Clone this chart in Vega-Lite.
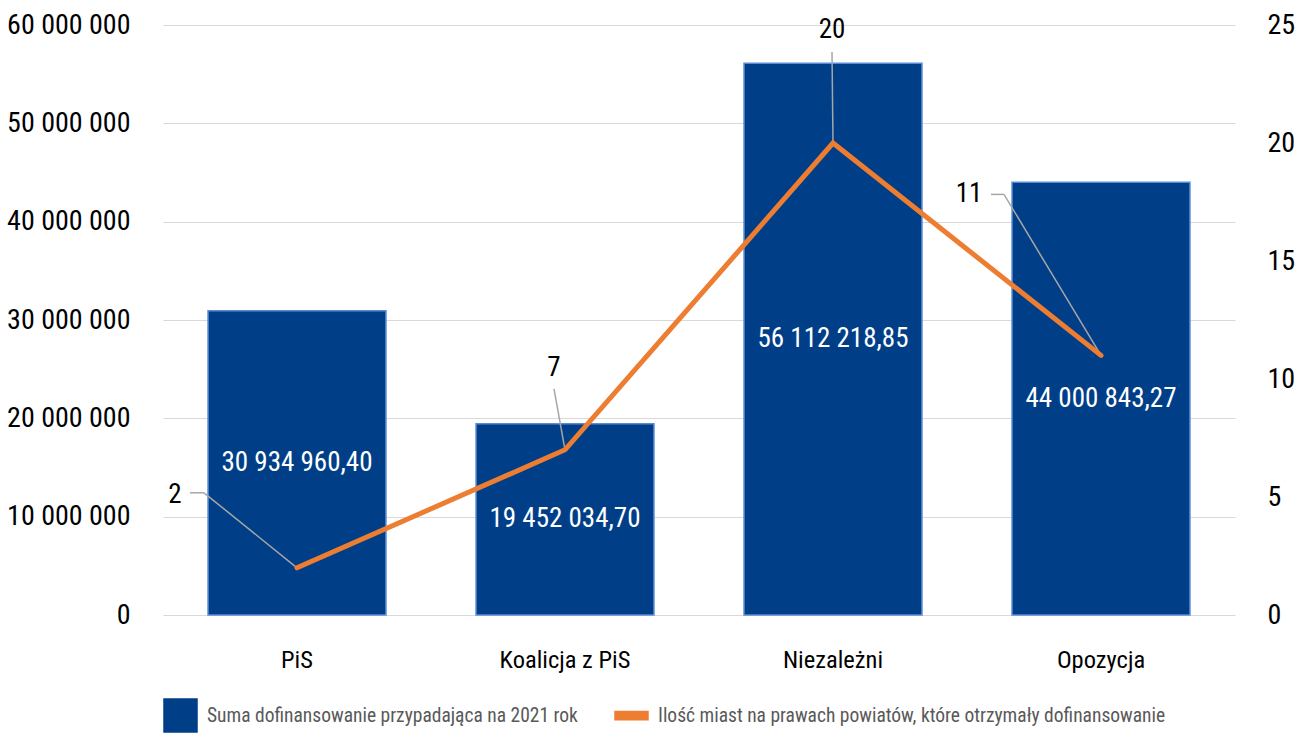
{
  "$schema": "https://vega.github.io/schema/vega-lite/v6.json",
  "width": 1072,
  "height": 590,
  "autosize": {"type": "none"},
  "padding": {"left": 163, "top": 25, "right": 71, "bottom": 118},
  "config": {
    "locale": {"number": {"decimal": ",", "thousands": " ", "grouping": [3], "currency": ["", ""]}},
    "font": "Roboto Condensed, Roboto",
    "view": {"stroke": null},
    "axis": {"labelColor": "#000000", "domain": false, "ticks": false, "title": null, "labelFont": "Roboto Condensed, Roboto"},
    "legend": {"labelFont": "Roboto Condensed, Roboto"}
  },
  "data": {
    "values": [
      {"party": "PiS", "suma": 30934960.40, "miasta": 2},
      {"party": "Koalicja z PiS", "suma": 19452034.70, "miasta": 7},
      {"party": "Niezależni", "suma": 56112218.85, "miasta": 20},
      {"party": "Opozycja", "suma": 44000843.27, "miasta": 11}
    ]
  },
  "encoding": {
    "x": {
      "field": "party", "type": "nominal", "sort": null,
      "scale": {"paddingInner": 0.336, "paddingOuter": 0.168},
      "axis": {"labelAngle": 0, "labelFontSize": 24.5, "labelPadding": 33, "grid": false}
    }
  },
  "layer": [
    {
      "encoding": {
        "y": {
          "field": "suma", "type": "quantitative",
          "scale": {"domain": [0, 60000000], "nice": false},
          "axis": {"orient": "left", "values": [0, 10000000, 20000000, 30000000, 40000000, 50000000, 60000000], "format": ",d", "labelFontSize": 28, "labelPadding": 33, "grid": true, "gridColor": "#D9D9D9", "gridWidth": 1.2}
        }
      },
      "layer": [
        {
          "mark": {"type": "bar", "stroke": "#5B8BD6", "strokeWidth": 1.5},
          "encoding": {
            "color": {
              "datum": "Suma dofinansowanie przypadająca na 2021 rok",
              "type": "nominal",
              "scale": {"domain": ["Suma dofinansowanie przypadająca na 2021 rok", "Ilość miast na prawach powiatów, które otrzymały dofinansowanie"], "range": ["#003F88", "#ED7D31"]},
              "legend": {
                "orient": "bottom", "direction": "horizontal", "title": null,
                "labelFontSize": 19.5, "labelColor": "#595959", "labelLimit": 700,
                "symbolSize": 1089, "labelOffset": 9, "columnPadding": 34, "offset": 26,
                "symbolType": {"expr": "datum.value === 'Suma dofinansowanie przypadająca na 2021 rok' ? 'square' : 'M-1,-1M1,1M-1,-0.25H1V0.25H-1Z'"},
                "encode": {
                  "symbols": {
                    "strokeWidth": {"value": 0},
                    "opacity": {"value": 1}
                  }
                }
              }
            }
          }
        },
        {
          "transform": [{"calculate": "datum.suma / 2", "as": "mid"}],
          "mark": {"type": "text", "color": "#FFFFFF", "fontSize": 27, "baseline": "middle"},
          "encoding": {
            "y": {"field": "mid", "type": "quantitative"},
            "text": {"field": "suma", "type": "quantitative", "format": ",.2f"}
          }
        }
      ]
    },
    {
      "encoding": {
        "y": {
          "field": "miasta", "type": "quantitative",
          "scale": {"domain": [0, 25], "nice": false},
          "axis": {"orient": "right", "values": [0, 5, 10, 15, 20, 25], "labelFontSize": 28, "labelPadding": 32, "grid": false}
        }
      },
      "layer": [
        {
          "transform": [{"filter": "datum.party === 'PiS'"}],
          "mark": {"type": "rule", "color": "#A6A6A6", "strokeWidth": 1.5, "xOffset": -107, "yOffset": -75, "x2Offset": -93, "y2Offset": -75},
          "encoding": {"x2": {"field": "party"}, "y2": {"field": "miasta"}}
        },
        {
          "transform": [{"filter": "datum.party === 'PiS'"}],
          "mark": {"type": "rule", "color": "#A6A6A6", "strokeWidth": 1.5, "xOffset": -93, "yOffset": -75, "x2Offset": 0, "y2Offset": 0},
          "encoding": {"x2": {"field": "party"}, "y2": {"field": "miasta"}}
        },
        {
          "transform": [{"filter": "datum.party === 'Koalicja z PiS'"}],
          "mark": {"type": "rule", "color": "#A6A6A6", "strokeWidth": 1.5, "xOffset": -11, "yOffset": -61, "x2Offset": 0, "y2Offset": 0},
          "encoding": {"x2": {"field": "party"}, "y2": {"field": "miasta"}}
        },
        {
          "transform": [{"filter": "datum.party === 'Niezależni'"}],
          "mark": {"type": "rule", "color": "#A6A6A6", "strokeWidth": 1.5, "xOffset": -1, "yOffset": -91, "x2Offset": 0, "y2Offset": 0},
          "encoding": {"x2": {"field": "party"}, "y2": {"field": "miasta"}}
        },
        {
          "transform": [{"filter": "datum.party === 'Opozycja'"}],
          "mark": {"type": "rule", "color": "#A6A6A6", "strokeWidth": 1.5, "xOffset": -110, "yOffset": -161, "x2Offset": -97, "y2Offset": -161},
          "encoding": {"x2": {"field": "party"}, "y2": {"field": "miasta"}}
        },
        {
          "transform": [{"filter": "datum.party === 'Opozycja'"}],
          "mark": {"type": "rule", "color": "#A6A6A6", "strokeWidth": 1.5, "xOffset": -97, "yOffset": -161, "x2Offset": 0, "y2Offset": 0},
          "encoding": {"x2": {"field": "party"}, "y2": {"field": "miasta"}}
        },
        {
          "mark": {"type": "line", "strokeWidth": 5, "strokeCap": "round", "strokeJoin": "miter"},
          "encoding": {
            "color": {"datum": "Ilość miast na prawach powiatów, które otrzymały dofinansowanie", "type": "nominal"}
          }
        },
        {
          "transform": [{"filter": "datum.party === 'PiS'"}],
          "mark": {"type": "text", "fontSize": 27, "color": "#000000", "dx": -122, "dy": -73, "baseline": "middle"},
          "encoding": {"text": {"field": "miasta"}}
        },
        {
          "transform": [{"filter": "datum.party === 'Koalicja z PiS'"}],
          "mark": {"type": "text", "fontSize": 27, "color": "#000000", "dx": -11, "dy": -82, "baseline": "middle"},
          "encoding": {"text": {"field": "miasta"}}
        },
        {
          "transform": [{"filter": "datum.party === 'Niezależni'"}],
          "mark": {"type": "text", "fontSize": 27, "color": "#000000", "dx": -1, "dy": -113, "baseline": "middle"},
          "encoding": {"text": {"field": "miasta"}}
        },
        {
          "transform": [{"filter": "datum.party === 'Opozycja'"}],
          "mark": {"type": "text", "fontSize": 27, "color": "#000000", "dx": -132, "dy": -161, "baseline": "middle"},
          "encoding": {"text": {"field": "miasta"}}
        }
      ]
    }
  ],
  "resolve": {"scale": {"y": "independent"}}
}
